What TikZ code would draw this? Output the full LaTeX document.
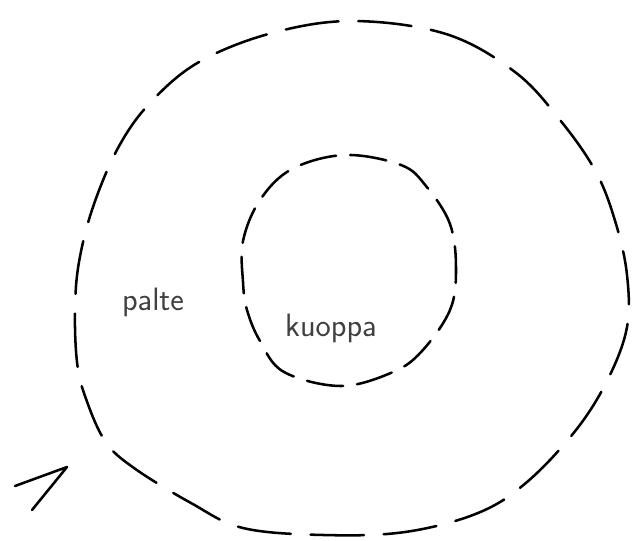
\documentclass[tikz,border=0pt]{standalone}
\usepackage{fontspec}
\begin{document}
\begin{tikzpicture}[
  x=0.025cm, y=-0.025cm,
  rim/.style={line width=1.8pt, dash pattern=on 38pt off 14pt, line cap=round},
  pit/.style={line width=1.8pt, dash pattern=on 26pt off 10pt, line cap=round},
  sign/.style={line width=1.8pt, line join=round, line cap=round},
  tag/.style={font=\fontsize{23}{26}\sffamily\addfontfeatures{LetterSpace=12}\selectfont, text=black!75, inner sep=0pt}
]
  % Kuvan rajat (pikseleinä)
  \useasboundingbox (0,0) rectangle (636,540);

  % Palteen ulkoreuna
  \draw[rim] plot[smooth cycle, tension=0.6] coordinates {
    (353,21) (446,34) (515,72) (560,120) (596,172) (616,224) (627,275)
    (627,327) (608,379) (576,430) (527,482) (478,513) (405,532) (324,535)
    (243,528) (191,503) (134,468) (105,441) (85,396) (77,362) (75,310)
    (79,262) (93,207) (118,148) (150,103) (199,62) (272,33)};

  % Kuopan reuna
  \draw[pit] plot[smooth cycle, tension=0.6] coordinates {
    (345,155) (401,165) (426,186) (450,224) (456,269) (450,310) (422,351)
    (393,372) (341,386) (284,372) (260,341) (247,310) (243,282) (243,241)
    (260,200) (292,169)};

  % Merkki vasemmassa alakulmassa
  \draw[sign] (15,486) -- (67,467) -- (32,510);

  % Tekstit
  \node[tag] (palte)  at (153,302) {palte};
  \node[tag] (kuoppa) at (331,328) {kuoppa};
\end{tikzpicture}
\end{document}
